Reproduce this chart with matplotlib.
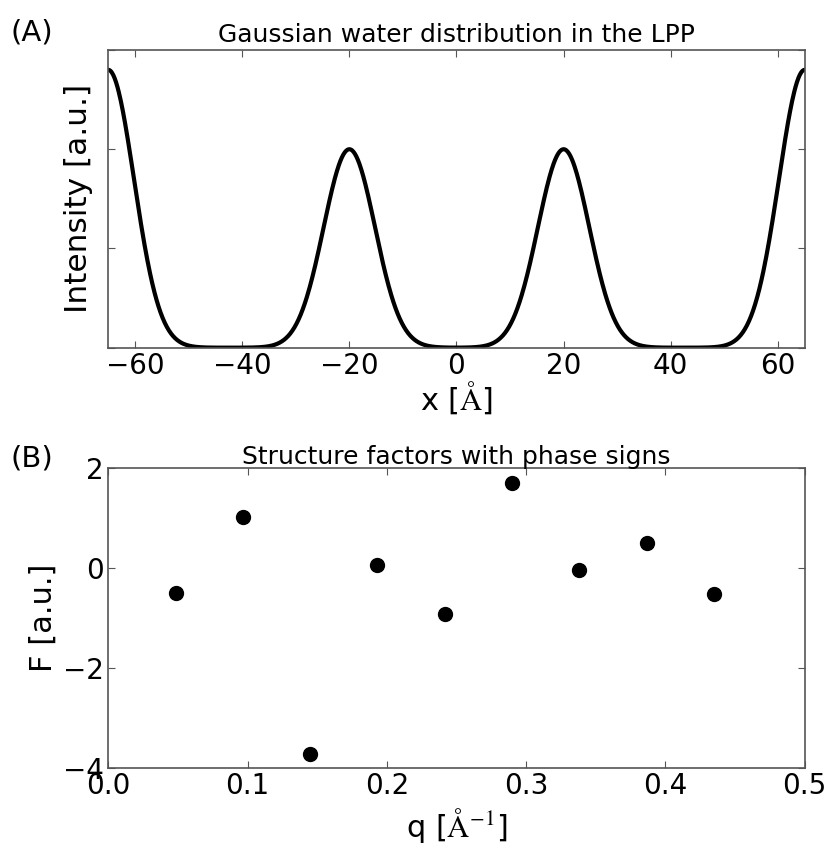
import numpy as np
import matplotlib
matplotlib.use("Agg")
import matplotlib.pyplot as plt

# panel A: water layer peaks
peak_centers = [-65.0, -20.0, 20.0, 65.0]
peak_heights = [2.8, 2.0, 2.0, 2.8]
peak_sigma = 4.8

# panel B: structure factors with phase signs
q_values = [0.0483, 0.0967, 0.145, 0.193, 0.242, 0.290, 0.338, 0.387, 0.435]
f_values = [-0.50, 1.02, -3.72, 0.07, -0.92, 1.70, -0.03, 0.50, -0.52]

plt.rcParams['mathtext.fontset'] = 'stix'
plt.rcParams['font.family'] = 'DejaVu Sans'

fig = plt.figure(figsize=(8.33, 8.48), dpi=100)
ax1 = fig.add_axes([0.130, 0.590, 0.836, 0.351])
ax2 = fig.add_axes([0.130, 0.094, 0.836, 0.354])

x = np.linspace(-65, 65, 1000)
profile = np.zeros_like(x)
for c, h in zip(peak_centers, peak_heights):
    profile += h * np.exp(-(x - c) ** 2 / (2 * peak_sigma ** 2))
ax1.plot(x, profile, color='black', lw=3)
ax1.set_xlim(-65, 65)
ax1.set_ylim(0, 3)
ax1.set_xticks([-60, -40, -20, 0, 20, 40, 60])
ax1.set_yticks([0, 1, 2, 3])
ax1.set_yticklabels([])
ax1.set_xlabel(r'x [$\mathrm{\AA}$]', fontsize=22, labelpad=0)
ax1.set_ylabel('Intensity [a.u.]', fontsize=22.5, labelpad=8)
ax1.set_title('Gaussian water distribution in the LPP', fontsize=18, pad=6)

ax2.plot(q_values, f_values, 'o', color='black', markersize=10)
ax2.set_xlim(0, 0.5)
ax2.set_ylim(-4, 2)
ax2.set_xticks([0, 0.1, 0.2, 0.3, 0.4, 0.5])
ax2.set_xticklabels(['0.0', '0.1', '0.2', '0.3', '0.4', '0.5'])
ax2.set_yticks([-4, -2, 0, 2])
ax2.set_xlabel(r'q [$\mathrm{\AA}^{-1}$]', fontsize=22, labelpad=4)
ax2.set_ylabel('F [a.u.]', fontsize=22, labelpad=4)
ax2.set_title('Structure factors with phase signs', fontsize=18, pad=3)

for ax in (ax1, ax2):
    ax.tick_params(direction='in', top=True, right=True, length=5,
                   width=0.8, color='#555555', labelsize=20, pad=3)
    for s in ax.spines.values():
        s.set_color('#555555')
        s.set_linewidth(1.2)

fig.text(0.013, 0.952, '(A)', fontsize=21)
fig.text(0.013, 0.450, '(B)', fontsize=21)

fig.savefig('out.png', dpi=100)
